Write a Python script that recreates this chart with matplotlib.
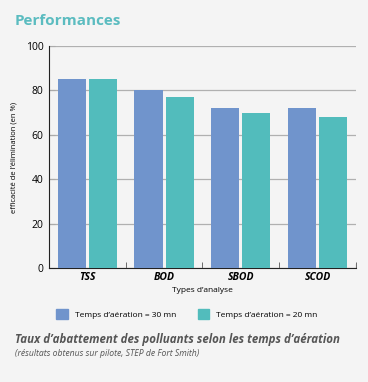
import numpy as np
import matplotlib.pyplot as plt
from matplotlib.patches import Patch

categories = ['TSS', 'BOD', 'SBOD', 'SCOD']
aeration_30 = [85, 80, 72, 72]
aeration_20 = [85, 77, 70, 68]
labels = ['Temps d\u2019aération = 30 mn', 'Temps d\u2019aération = 20 mn']

bg = '#f4f4f4'
blue = '#7094cc'
teal = '#52bcbc'
plt.rcParams['font.family'] = ['Open Sans', 'DejaVu Sans']

fig = plt.figure(figsize=(3.68, 3.82), dpi=100, facecolor=bg)
ax = fig.add_axes([0.133, 0.2984, 0.834, 0.5812], facecolor=bg)

x = np.arange(len(categories))
w = 0.365
ax.bar(x - w / 2 - 0.02, aeration_30, w, color=blue, zorder=3)
ax.bar(x + w / 2 + 0.02, aeration_20, w, color=teal, zorder=3)

ax.set_xlim(-0.5, len(categories) - 0.5)
ax.set_ylim(0, 100)
ax.set_yticks(range(0, 101, 20))
ax.yaxis.grid(True, color='#b0b0b0', linewidth=0.9, zorder=0)
ax.tick_params(axis='y', direction='in', length=4, labelsize=7.5, pad=4, color='#aaaaaa')
ax.set_xticks(x)
ax.set_xticklabels(categories, fontsize=7.5, fontweight='bold', style='italic')
ax.tick_params(axis='x', length=0, pad=3)
ax.set_xticks(np.arange(0.5, len(categories), 1), minor=True)
ax.tick_params(axis='x', which='minor', direction='in', length=4, color='#555555')
for s in ['top', 'right']:
    ax.spines[s].set_visible(False)
ax.spines['left'].set_color('#222222')
ax.spines['bottom'].set_color('#222222')
ax.axvline(len(categories) - 0.5, ymax=0.02, color='#555555', linewidth=0.8)

ax.set_ylabel('efficacité de l\u2019élimination (en %)', fontsize=5.5, labelpad=6)
ax.set_xlabel('Types d\u2019analyse', fontsize=6, labelpad=3)

handles = [Patch(color=blue), Patch(color=teal)]
ax.legend(handles, labels, loc='upper left', bbox_to_anchor=(0.013, -0.17), ncol=2,
          frameon=False, fontsize=6, handlelength=1.4, handleheight=1.4,
          handletextpad=0.8, columnspacing=2.6, borderaxespad=0)

fig.text(0.04, 0.935, 'Performances', color='#5bbcc0', fontsize=11, fontweight='bold')
fig.text(0.04, 0.102, 'Taux d\u2019abattement des polluants selon les temps d\u2019aération',
         color='#555555', fontsize=8.3, fontweight='bold', style='italic')
fig.text(0.04, 0.067, '(résultats obtenus sur pilote, STEP de Fort Smith)',
         color='#555555', fontsize=6.2, style='italic')

fig.savefig('out.png', dpi=100, facecolor=bg)
